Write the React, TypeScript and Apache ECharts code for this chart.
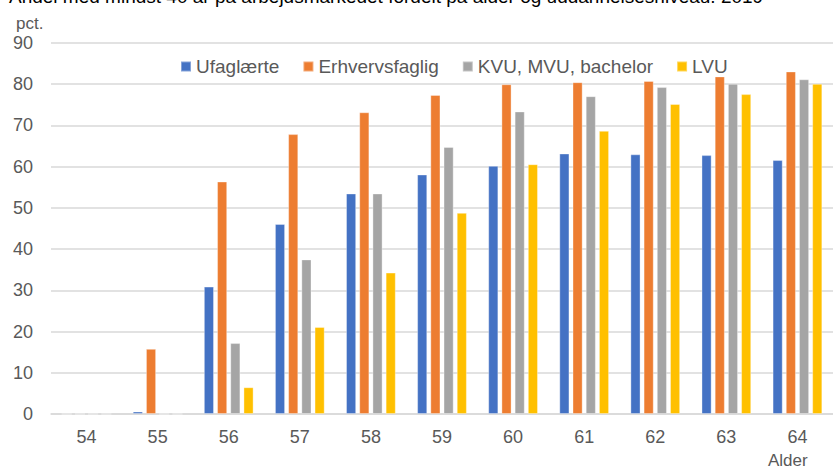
import React, { useEffect, useRef } from "react";
import * as echarts from "echarts";

const categories = ["54", "55", "56", "57", "58", "59", "60", "61", "62", "63", "64"];
const seriesNames = ["Ufaglærte", "Erhvervsfaglig", "KVU, MVU, bachelor", "LVU"];
const ufaglaerte = [0, 0.6, 30.9, 46.1, 53.5, 58.1, 60.2, 63.2, 63.0, 62.8, 61.6];
const erhvervsfaglig = [0, 15.8, 56.4, 67.9, 73.2, 77.4, 80.0, 80.5, 80.8, 81.9, 83.1];
const kvu = [0, 0, 17.2, 37.5, 53.5, 64.8, 73.4, 77.1, 79.3, 80.1, 81.2];
const lvu = [0, 0, 6.5, 21.1, 34.3, 48.8, 60.6, 68.7, 75.2, 77.6, 80.1];
const colors = ["#4472C4", "#ED7D31", "#A5A5A5", "#FFC000"];
const titleText = "Andel med mindst 40 år på arbejdsmarkedet fordelt på alder og uddannelsesniveau. 2019";
const yName = "pct.";
const xName = "Alder";

const FONT = "'Liberation Sans', Arial, sans-serif";

export default function App() {
  const ref = useRef<HTMLDivElement>(null);
  useEffect(() => {
    if (!ref.current) return;
    const chart = echarts.init(ref.current, undefined, { renderer: "svg" });
    const data = [ufaglaerte, erhvervsfaglig, kvu, lvu];
    chart.setOption({
      animation: false,
      textStyle: { fontFamily: FONT },
      grid: { left: 51, right: -11, top: 43, bottom: 55, containLabel: false },
      legend: {
        data: seriesNames,
        left: 175,
        top: 52,
        icon: "rect",
        itemWidth: 10,
        itemHeight: 10,
        itemGap: 23,
        textStyle: { fontSize: 19, color: "#595959", fontFamily: FONT },
      },
      xAxis: {
        type: "category",
        data: categories,
        axisLine: { show: true, lineStyle: { color: "#D9D9D9", width: 1.5 } },
        axisTick: { show: false },
        axisLabel: { fontSize: 18, color: "#595959", margin: 14, fontFamily: FONT },
      },
      yAxis: {
        type: "value",
        min: 0,
        max: 90,
        interval: 10,
        axisLine: { show: false },
        axisTick: { show: false },
        splitLine: { lineStyle: { color: "#D9D9D9", width: 1.5 } },
        axisLabel: { fontSize: 18, color: "#595959", margin: 18, fontFamily: FONT },
      },
      graphic: [
        {
          type: "text",
          left: 9,
          top: -13,
          style: { text: titleText, fontSize: 19, fill: "#000000", fontFamily: FONT },
        },
        {
          type: "text",
          left: 16,
          top: 15,
          style: { text: yName, fontSize: 17, fill: "#595959", fontFamily: FONT },
        },
        {
          type: "text",
          left: 768,
          top: 452,
          style: { text: xName, fontSize: 17, fill: "#595959", fontFamily: FONT },
        },
      ],
      series: seriesNames.map((name, i) => ({
        name,
        type: "bar",
        data: data[i],
        barGap: "30%",
        barCategoryGap: "30%",
        itemStyle: { color: colors[i], borderColor: "rgba(255,255,255,0.35)", borderWidth: 1 },
      })),
    });
    return () => chart.dispose();
  }, []);
  return (
    <div
      ref={ref}
      style={{ position: "fixed", left: 0, top: 0, width: 833, height: 469, background: "#ffffff" }}
    />
  );
}
